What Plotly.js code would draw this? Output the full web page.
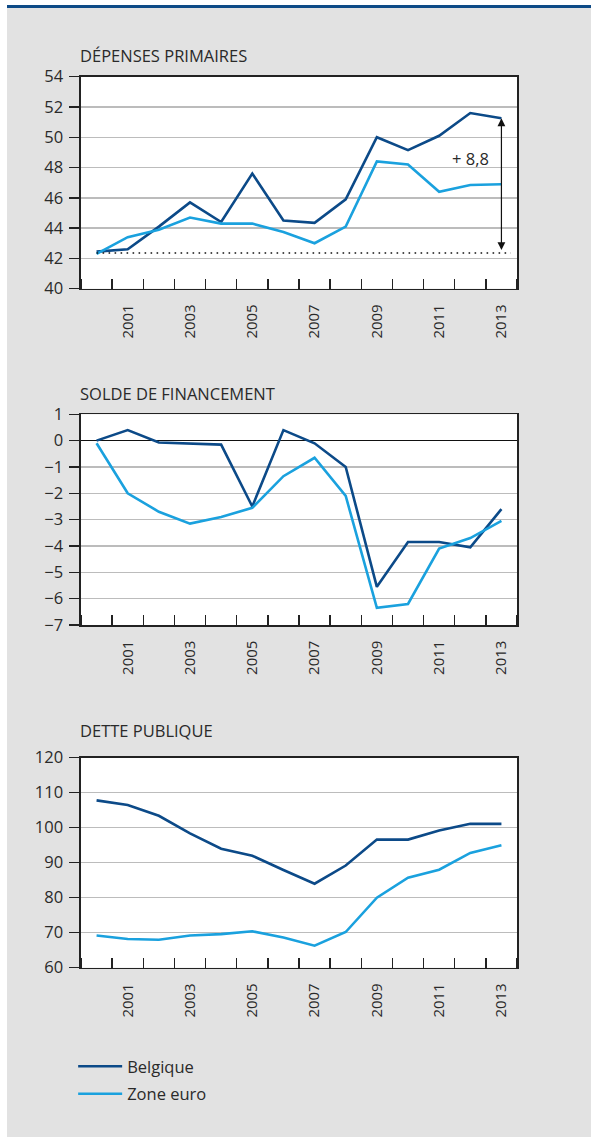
<!DOCTYPE html>
<html>
<head>
<meta charset="utf-8">
<script src="https://cdn.plot.ly/plotly-3.0.1.min.js"></script>
<style>
  html, body { margin: 0; padding: 0; background: #ffffff; }
  #bar { position: absolute; left: 7px; top: 5px; width: 584px; height: 3px; background: #0d4a86; }
  #chart { position: absolute; left: 7px; top: 8px; width: 584px; height: 1129px; }
</style>
</head>
<body>
<div id="bar"></div>
<div id="chart"></div>
<script>
// ---- Data ----
const years = [2000, 2001, 2002, 2003, 2004, 2005, 2006, 2007, 2008, 2009, 2010, 2011, 2012, 2013];
const yearLabels = [2001, 2003, 2005, 2007, 2009, 2011, 2013];
const seriesNames = ['Belgique', 'Zone euro'];

// Dépenses primaires (% du PIB)
const depensesBelgique = [42.45, 42.6, 44.1, 45.7, 44.4, 47.6, 44.5, 44.35, 45.9, 50.0, 49.15, 50.1, 51.6, 51.25];
const depensesZoneEuro = [42.3, 43.4, 43.9, 44.7, 44.3, 44.3, 43.75, 43.0, 44.1, 48.4, 48.2, 46.4, 46.85, 46.9];
const depensesReference = [42.35, 42.35];
const depensesReferenceYears = [2000, 2013.3];
const depensesEcartYear = 2013;
const depensesEcartFrom = 42.45;
const depensesEcartTo = 51.25;
const depensesEcartLabel = '+ 8,8';
const depensesEcartLabelPos = [2012, 48.6];

// Solde de financement (% du PIB)
const soldeBelgique = [0.0, 0.4, -0.07, -0.1, -0.15, -2.5, 0.4, -0.1, -1.0, -5.55, -3.85, -3.85, -4.05, -2.6];
const soldeZoneEuro = [-0.1, -2.0, -2.7, -3.15, -2.9, -2.55, -1.35, -0.65, -2.1, -6.35, -6.2, -4.1, -3.7, -3.05];

// Dette publique (% du PIB)
const detteBelgique = [107.8, 106.5, 103.4, 98.4, 94.0, 92.0, 87.9, 84.0, 89.2, 96.6, 96.6, 99.2, 101.1, 101.1];
const detteZoneEuro = [69.2, 68.2, 68.0, 69.2, 69.6, 70.4, 68.6, 66.3, 70.2, 80.0, 85.7, 88.0, 92.8, 95.0];

const panelTitles = ['DÉPENSES PRIMAIRES', 'SOLDE DE FINANCEMENT', 'DETTE PUBLIQUE'];

// ---- Style ----
const colBE = '#0c4a88';
const colZE = '#1aa1de';
const ink = '#222222';
const textCol = '#2a2a2a';
const gridCol = '#bcbcbc';
const FONT = 'Open Sans, Noto Sans, sans-serif';
const FS = 16.5;
const FSX = 15;

function line(x, y, color, name, xa, ya, showlegend) {
  return { type: 'scatter', mode: 'lines', x: x, y: y, name: name,
    xaxis: xa, yaxis: ya, showlegend: showlegend, legendgroup: name,
    line: { color: color, width: 2.6 }, hoverinfo: 'x+y+name' };
}

const traces = [
  line(years, depensesBelgique, colBE, seriesNames[0], 'x', 'y', true),
  line(years, depensesZoneEuro, colZE, seriesNames[1], 'x', 'y', true),
  { type: 'scatter', mode: 'lines', x: depensesReferenceYears, y: depensesReference,
    xaxis: 'x', yaxis: 'y', showlegend: false, hoverinfo: 'skip',
    line: { color: '#111', width: 1.5, dash: '1.6px,4.4px' } },
  line(years, soldeBelgique, colBE, seriesNames[0], 'x2', 'y3', false),
  line(years, soldeZoneEuro, colZE, seriesNames[1], 'x2', 'y3', false),
  line(years, detteBelgique, colBE, seriesNames[0], 'x3', 'y5', false),
  line(years, detteZoneEuro, colZE, seriesNames[1], 'x3', 'y5', false)
];

function xAxis(anchor) {
  return {
    anchor: anchor, domain: [0, 1], range: [1999.5, 2013.5],
    tickmode: 'array', tickvals: yearLabels, ticktext: yearLabels.map(String),
    ticks: '', tickangle: -90, ticklabelstandoff: 8,
    tickfont: { size: FSX, color: textCol, family: FONT },
    showgrid: false, zeroline: false,
    showline: true, mirror: true, linecolor: ink, linewidth: 1.6,
    minor: { tickmode: 'linear', tick0: 1999.5, dtick: 1, ticks: 'inside', ticklen: 10,
      tickwidth: 1.5, tickcolor: ink, showgrid: false },
    fixedrange: true
  };
}
function yAxis(anchor, domain, range, dtick, zeroline) {
  return {
    anchor: anchor, domain: domain, range: range, dtick: dtick, tick0: range[0],
    ticks: 'outside', ticklen: 10, tickwidth: 1.5, tickcolor: ink, ticklabelstandoff: 3,
    tickfont: { size: FS, color: textCol, family: FONT },
    showgrid: true, gridcolor: gridCol, gridwidth: 1.5,
    zeroline: zeroline, zerolinecolor: '#111', zerolinewidth: 1.6,
    showline: true, mirror: true, linecolor: ink, linewidth: 1.6,
    fixedrange: true
  };
}
function yAxisRight(anchor, over, range, dtick) {
  return {
    anchor: anchor, overlaying: over, side: 'right', range: range, dtick: dtick, tick0: range[0],
    ticks: 'outside', ticklen: 10, tickwidth: 1.5, tickcolor: ink, ticklabelstandoff: 6,
    tickfont: { size: FS, color: textCol, family: FONT },
    showgrid: false, zeroline: false, showline: true, linecolor: ink, linewidth: 1.6,
    fixedrange: true
  };
}

const H = 1129;
const d1 = [1 - 280.7 / H, 1 - 68.7 / H];
const d2 = [1 - 617 / H, 1 - 406.3 / H];
const d3 = [1 - 959.7 / H, 1 - 749.7 / H];

function titleAnn(text, ypx) {
  return { xref: 'paper', yref: 'paper', x: -0.008, y: 1 - ypx / H, xanchor: 'left', yanchor: 'middle',
    text: text, showarrow: false, font: { size: FS, color: textCol, family: FONT } };
}

const layout = {
  width: 584, height: H,
  margin: { l: 73.5, r: 74, t: 0, b: 0, autoexpand: false },
  paper_bgcolor: '#e2e2e2', plot_bgcolor: '#ffffff',
  font: { family: FONT, color: textCol, size: FS },
  showlegend: true,
  legend: { x: -0.018, y: 1 - 1041 / H, xanchor: 'left', yanchor: 'top', orientation: 'v',
    bgcolor: 'rgba(0,0,0,0)', font: { size: FS, color: textCol, family: FONT },
    itemwidth: 44, tracegroupgap: 3 },
  xaxis: xAxis('y'),
  yaxis: yAxis('x', d1, [40, 54], 2, false),
  yaxis2: yAxisRight('x', 'y', [40, 54], 2),
  xaxis2: xAxis('y3'),
  yaxis3: yAxis('x2', d2, [-7, 1], 1, true),
  yaxis4: yAxisRight('x2', 'y3', [-7, 1], 1),
  xaxis3: xAxis('y5'),
  yaxis5: yAxis('x3', d3, [60, 120], 10, false),
  yaxis6: yAxisRight('x3', 'y5', [60, 120], 10),
  annotations: [
    titleAnn(panelTitles[0], 48),
    titleAnn(panelTitles[1], 385.7),
    titleAnn(panelTitles[2], 723),
    { xref: 'x', yref: 'y', axref: 'x', ayref: 'y',
      x: depensesEcartYear, y: depensesEcartTo, ax: depensesEcartYear, ay: depensesEcartFrom,
      text: '', showarrow: true, arrowside: 'end+start', arrowhead: 2, arrowsize: 1.3,
      arrowwidth: 1.2, arrowcolor: '#111' },
    { xref: 'x', yref: 'y', x: depensesEcartLabelPos[0], y: depensesEcartLabelPos[1],
      text: depensesEcartLabel, showarrow: false, font: { size: FS, color: textCol, family: FONT } }
  ]
};

Plotly.newPlot('chart', traces, layout, { displayModeBar: false, staticPlot: true });
</script>
</body>
</html>
